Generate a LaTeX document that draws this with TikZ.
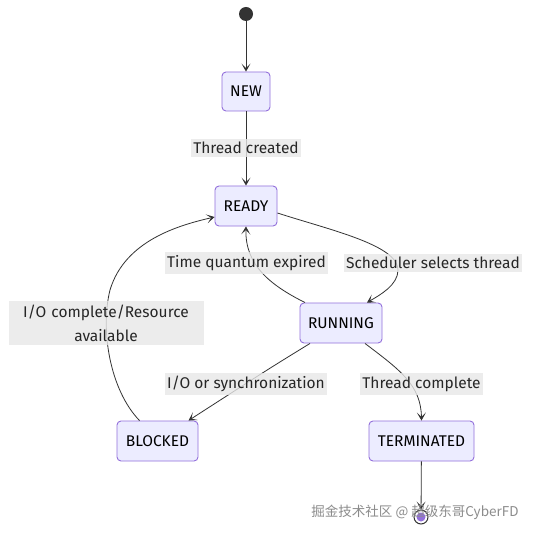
\documentclass[tikz,border=0pt]{standalone}
\usepackage{fontspec}
\setmainfont{Fira Sans}
\newfontfamily\cjk{Noto Sans CJK SC}
\usetikzlibrary{arrows.meta}
\definecolor{nodefill}{HTML}{ECECFF}
\definecolor{nodeline}{HTML}{9370DB}
\definecolor{edgecol}{HTML}{333333}
\definecolor{lblbg}{HTML}{E8E8E8}
\begin{document}
\begin{tikzpicture}[x=1pt,y=-1pt,
  state/.style={draw=nodeline, fill=nodefill, rounded corners=4pt, line width=0.9pt,
    minimum height=40pt, inner sep=0pt, font=\fontsize{15.5}{18}\selectfont, text=black},
  lbl/.style={fill=lblbg, fill opacity=0.8, text opacity=1, inner xsep=2.5pt, inner ysep=3.5pt,
    font=\fontsize{15.5}{18.5}\selectfont, text=black!85, align=center},
  conn/.style={draw=edgecol, line width=0.8pt, -{Stealth[length=8pt,width=9pt,inset=4.5pt]}}]
\useasboundingbox (0,0) rectangle (532,534);
\fill[white] (0,0) rectangle (532,534);

\node[circle, fill=edgecol, minimum size=14pt, inner sep=0pt] (start) at (246,14) {};
\node[state, minimum width=48pt, minimum height=39pt] (new) at (246,91.5) {NEW};
\node[state, minimum width=62pt] (ready) at (246,206) {READY};
\node[state, minimum width=82pt] (running) at (341,323) {RUNNING};
\node[state, minimum width=81pt] (blocked) at (157.5,441) {BLOCKED};
\node[state, minimum width=105pt] (term) at (421.5,441) {TERMINATED};
\node[circle, draw=edgecol, line width=1pt, fill=white, minimum size=14pt, inner sep=0pt] (end) at (421,517) {};
\fill[nodeline] (end.center) circle (4.5pt);

\draw[conn] (start) -- (new);
\draw[conn] (new) -- (ready);
\draw[conn] ([yshift=-7pt]ready.east) .. controls (330,230) and (398,245) .. (398,270)
  .. controls (398,285) and (380,295) .. ([xshift=26pt]running.north);
\draw[conn] ([xshift=-36pt]running.north) .. controls (270,285) and (245,265) .. (ready.south);
\draw[conn] ([xshift=-18pt]blocked.north) .. controls (110,390) and (100,330) .. (110,290)
  .. controls (125,240) and (180,225) .. ([yshift=-11pt]ready.west);
\draw[conn] ([xshift=-31pt]running.south) .. controls (270,368) .. ([xshift=31pt]blocked.north);
\draw[conn] ([xshift=24pt]running.south) .. controls (400,370) and (421,385) .. (term.north);
\draw[conn] (term) -- (end);

\node[lbl] (l1) at (246,148) {Thread created};
\node[lbl] (l2) at (246.5,263) {Time quantum expired};
\node[lbl] (l3) at (433,263) {Scheduler selects thread};
\node[lbl, text width=190pt, font=\fontsize{15.5}{24}\selectfont] (l4) at (106,323) {I/O complete/Resource\\available};
\node[lbl] (l5) at (246,384) {I/O or synchronization};
\node[lbl] (l6) at (421.5,384) {Thread complete};

\node[font=\cjk\fontsize{13.5}{15}\selectfont, text=black!45] (wm) at (415,512) {掘金技术社区 @ 超级东哥CyberFD};
\end{tikzpicture}
\end{document}
